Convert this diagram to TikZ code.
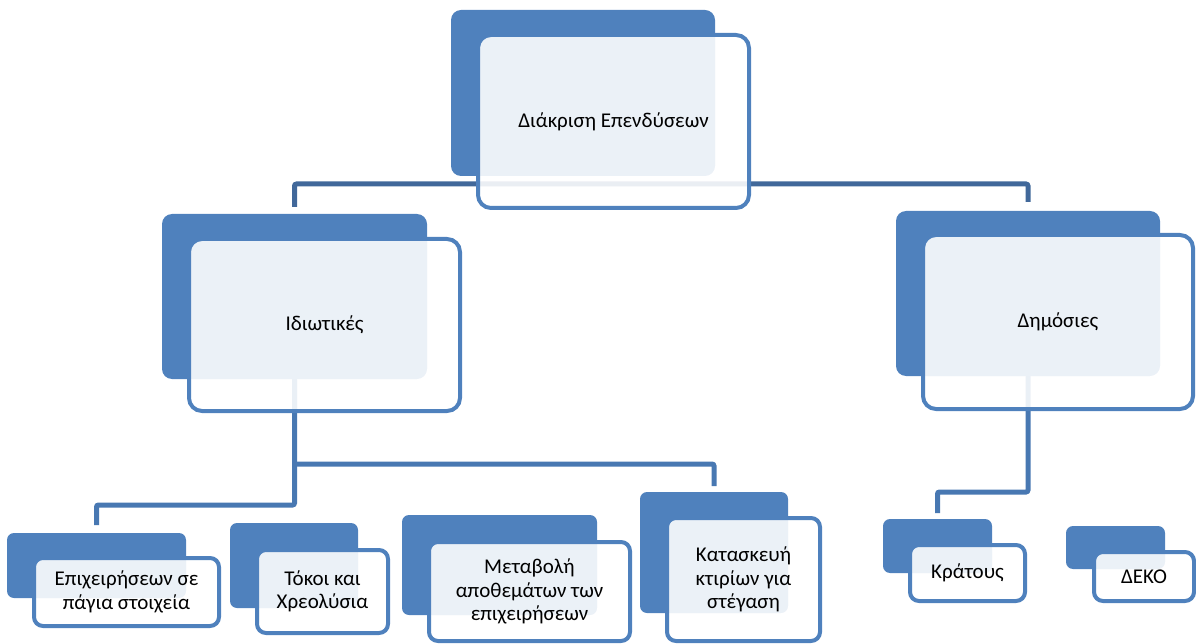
\documentclass[tikz,border=0pt]{standalone}
\usepackage{fontspec}
\setmainfont{Carlito}
\definecolor{boxblue}{HTML}{4F81BD}
\definecolor{edgeblue}{HTML}{4F81BD}
\definecolor{topconncol}{HTML}{41689A}
\definecolor{conncol}{HTML}{4878B2}
\tikzset{
  backbox/.style={fill=boxblue, draw=none, rounded corners=10pt, inner sep=0pt, outer sep=0pt},
  frontbox/.style={fill=white, fill opacity=0.89, text opacity=1, draw=edgeblue, line width=4pt,
    rounded corners=13pt, inner sep=0pt, outer sep=0pt, align=center, font=\fontsize{21}{23.5}\selectfont},
  smallfront/.style={frontbox, rounded corners=9pt},
  smallback/.style={backbox, rounded corners=7pt},
  topconn/.style={draw=topconncol, line width=5pt, rounded corners=2pt},
  conn/.style={draw=conncol, line width=5pt, rounded corners=2pt}
}
\begin{document}
\begin{tikzpicture}[x=1pt,y=-1pt]
\useasboundingbox (0,0) rectangle (1196,644);
% junction levels
\coordinate (tj) at (613,184);
\coordinate (rj) at (294,464);
\coordinate (lj) at (294,505);
\coordinate (dj) at (1028,492);
% back boxes
\node[backbox, minimum width=264pt, minimum height=166pt] (topb) at (583,93) {};
\node[backbox, minimum width=265pt, minimum height=165pt] (privb) at (294.5,296.5) {};
\node[backbox, minimum width=264pt, minimum height=165pt] (pubb) at (1028,293.5) {};
\node[smallback, minimum width=179pt, minimum height=65pt] (c1b) at (96.5,565.5) {};
\node[smallback, minimum width=128pt, minimum height=85pt] (c2b) at (294,565.5) {};
\node[smallback, minimum width=195pt, minimum height=100pt] (c3b) at (499.5,565) {};
\node[smallback, minimum width=148pt, minimum height=121pt] (c4b) at (714,552.5) {};
\node[smallback, minimum width=109pt, minimum height=54pt] (c5b) at (937.5,546) {};
\node[smallback, minimum width=99pt, minimum height=43pt] (c6b) at (1115.5,547.5) {};
% connectors
\draw[topconn] ([yshift=7pt]privb.north) -- (privb.north |- tj) -- (pubb.north |- tj) -- ([yshift=9pt]pubb.north);
\draw[conn] (privb.south) -- (privb.south |- lj) -- (c1b.north |- lj) -- ([yshift=8pt]c1b.north);
\draw[conn] (privb.south |- rj) -- (c4b.north |- rj) -- ([yshift=6pt]c4b.north);
\draw[conn] (pubb.south) -- (pubb.south |- dj) -- (c5b.north |- dj) -- ([yshift=6pt]c5b.north);
% front boxes
\node[frontbox, minimum width=271pt, minimum height=173pt] (topf) at (613.5,121.5) {Διάκριση Επενδύσεων};
\node[frontbox, minimum width=271pt, minimum height=172pt] (privf) at (324.5,325) {Ιδιωτικές};
\node[frontbox, minimum width=270pt, minimum height=174pt] (pubf) at (1058,322) {Δημόσιες};
\node[smallfront, minimum width=185pt, minimum height=68pt] (c1f) at (126.5,592) {Επιχειρήσεων σε\\πάγια στοιχεία};
\node[smallfront, minimum width=131pt, minimum height=83pt] (c2f) at (322.5,591.5) {Τόκοι και\\Χρεολύσια};
\node[smallfront, minimum width=201pt, minimum height=99pt] (c3f) at (529.5,591.5) {Μεταβολή\\αποθεμάτων των\\επιχειρήσεων};
\node[smallfront, minimum width=153pt, minimum height=123pt] (c4f) at (743.5,579.5) {Κατασκευή\\κτιρίων για\\στέγαση};
\node[smallfront, minimum width=115pt, minimum height=56pt] (c5f) at (967.5,573) {Κράτους};
\node[smallfront, minimum width=100pt, minimum height=49pt] (c6f) at (1144,576.5) {ΔΕΚΟ};
\end{tikzpicture}
\end{document}
